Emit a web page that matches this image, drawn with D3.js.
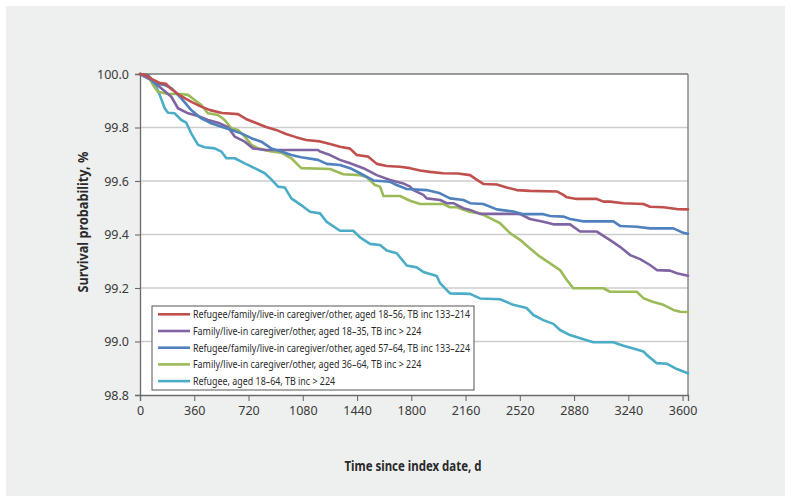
<!DOCTYPE html>
<html><head><meta charset="utf-8">
<script src="https://cdn.jsdelivr.net/npm/d3@7"></script>
<style>
html,body{margin:0;padding:0;background:#fff;}
svg{display:block;}
</style></head>
<body>
<svg id="chart" width="791" height="502"></svg>
<script>
// ---------- data ----------
const seriesNames = [
  "Refugee/family/live-in caregiver/other, aged 18\u201356, TB inc 133\u2013214",
  "Family/live-in caregiver/other, aged 18\u201335, TB inc > 224",
  "Refugee/family/live-in caregiver/other, aged 57\u201364, TB inc 133\u2013224",
  "Family/live-in caregiver/other, aged 36\u201364, TB inc > 224",
  "Refugee, aged 18\u201364, TB inc > 224"
];
const seriesColors = ["#c0504d", "#8064a2", "#4f81bd", "#9bbb59", "#4bacc6"];

const red = [[0,100],[40,99.996],[80,99.981],[133,99.966],[173,99.963],[199,99.948],[252,99.925],[305,99.907],[345,99.895],[398,99.880],[465,99.865],[544,99.854],[650,99.850],[703,99.832],[770,99.817],[836,99.802],[903,99.791],[969,99.776],[1035,99.764],[1102,99.753],[1195,99.748],[1261,99.738],[1327,99.728],[1394,99.721],[1438,99.697],[1515,99.691],[1571,99.664],[1637,99.656],[1725,99.653],[1792,99.648],[1858,99.639],[1924,99.634],[2011,99.629],[2110,99.628],[2190,99.622],[2236,99.604],[2278,99.589],[2367,99.587],[2433,99.576],[2500,99.566],[2588,99.563],[2765,99.561],[2809,99.548],[2832,99.539],[2898,99.533],[3031,99.533],[3075,99.523],[3119,99.523],[3207,99.517],[3340,99.514],[3384,99.504],[3473,99.502],[3562,99.495],[3636,99.494]];

const purple = [[0,100],[75,99.978],[141,99.947],[208,99.915],[252,99.872],[319,99.853],[385,99.843],[451,99.828],[518,99.818],[584,99.801],[628,99.766],[695,99.747],[750,99.722],[828,99.716],[1181,99.716],[1195,99.710],[1261,99.697],[1327,99.679],[1394,99.666],[1482,99.648],[1571,99.622],[1659,99.604],[1747,99.591],[1792,99.579],[1814,99.566],[1880,99.548],[1902,99.535],[1991,99.529],[2035,99.517],[2079,99.517],[2146,99.498],[2190,99.492],[2256,99.477],[2500,99.477],[2522,99.476],[2588,99.458],[2676,99.448],[2743,99.438],[2853,99.438],[2920,99.411],[3031,99.411],[3119,99.379],[3185,99.354],[3252,99.323],[3318,99.308],[3384,99.286],[3429,99.267],[3517,99.265],[3562,99.255],[3636,99.246]];

const blue = [[0,100],[53,99.996],[98,99.965],[164,99.959],[208,99.947],[274,99.909],[340,99.865],[407,99.834],[473,99.816],[540,99.803],[606,99.791],[672,99.778],[739,99.760],[805,99.747],[871,99.722],[938,99.710],[1004,99.697],[1070,99.689],[1181,99.679],[1239,99.664],[1327,99.660],[1394,99.648],[1460,99.629],[1548,99.602],[1659,99.597],[1703,99.585],[1770,99.570],[1902,99.566],[1991,99.554],[2057,99.535],[2146,99.529],[2190,99.517],[2278,99.514],[2367,99.494],[2477,99.486],[2544,99.476],[2676,99.476],[2721,99.469],[2809,99.467],[2853,99.458],[2942,99.449],[3141,99.449],[3185,99.432],[3296,99.429],[3384,99.423],[3539,99.423],[3605,99.406],[3636,99.403]];

const green = [[0,100],[53,99.996],[86,99.959],[119,99.934],[186,99.925],[274,99.925],[319,99.922],[363,99.903],[407,99.884],[451,99.853],[518,99.847],[562,99.828],[606,99.797],[650,99.791],[695,99.766],[739,99.735],[783,99.722],[871,99.710],[938,99.706],[1004,99.685],[1070,99.648],[1261,99.645],[1349,99.625],[1460,99.622],[1504,99.614],[1559,99.585],[1593,99.579],[1615,99.544],[1725,99.544],[1792,99.526],[1858,99.514],[2013,99.514],[2057,99.502],[2102,99.502],[2190,99.484],[2256,99.479],[2323,99.461],[2389,99.442],[2455,99.405],[2522,99.380],[2588,99.348],[2654,99.317],[2721,99.292],[2787,99.267],[2832,99.230],[2875,99.199],[3075,99.199],[3119,99.186],[3296,99.186],[3340,99.162],[3406,99.148],[3473,99.137],[3539,99.118],[3584,99.111],[3636,99.110]];

const cyan = [[0,100],[53,99.984],[98,99.965],[131,99.922],[164,99.872],[186,99.855],[230,99.853],[274,99.828],[307,99.818],[340,99.778],[385,99.735],[429,99.726],[496,99.722],[540,99.710],[573,99.685],[628,99.685],[695,99.666],[761,99.648],[828,99.629],[871,99.606],[916,99.579],[960,99.576],[1004,99.535],[1084,99.504],[1128,99.485],[1195,99.479],[1239,99.447],[1327,99.414],[1415,99.414],[1460,99.389],[1526,99.365],[1593,99.361],[1637,99.340],[1703,99.330],[1770,99.284],[1836,99.277],[1880,99.260],[1924,99.252],[1969,99.245],[1991,99.218],[2057,99.180],[2190,99.178],[2256,99.161],[2389,99.158],[2477,99.137],[2566,99.125],[2610,99.099],[2676,99.080],[2743,99.066],[2787,99.043],[2853,99.024],[2942,99.008],[3008,98.997],[3141,98.997],[3207,98.984],[3274,98.974],[3340,98.963],[3362,98.950],[3429,98.919],[3495,98.917],[3562,98.897],[3636,98.881]];

const xTicks = [0,360,720,1080,1440,1800,2160,2520,2880,3240,3600];
const yTicks = [98.8,99.0,99.2,99.4,99.6,99.8,100.0];
const xDomain = [0, 3636];
const yDomain = [98.8, 100.0];
const xTitle = "Time since index date, d";
const yTitle = "Survival probability, %";

// ---------- drawing ----------
const svg = d3.select("#chart");
const W = 791, H = 502;
const plot = {left:140, top:74, right:688, bottom:395};
const fontMain = "'Noto Sans','Open Sans',sans-serif";

svg.append("rect").attr("x",6).attr("y",6).attr("width",W-12).attr("height",H-12).attr("fill","#eeefef");

const x = d3.scaleLinear().domain(xDomain).range([plot.left, plot.right]);
const y = d3.scaleLinear().domain(yDomain).range([plot.bottom, plot.top]);

svg.append("rect").attr("x",plot.left).attr("y",plot.top)
  .attr("width",plot.right-plot.left).attr("height",plot.bottom-plot.top).attr("fill","#fff");

// gridlines
svg.append("g").selectAll("line").data(yTicks.filter(v=>v>98.85 && v<99.95)).join("line")
  .attr("x1",plot.left).attr("x2",plot.right)
  .attr("y1",d=>y(d)).attr("y2",d=>y(d))
  .attr("stroke","#cdcdcd").attr("stroke-width",1.4);

// frame top/right
svg.append("line").attr("x1",plot.left).attr("x2",plot.right).attr("y1",plot.top).attr("y2",plot.top)
  .attr("stroke","#7a7a7a").attr("stroke-width",1.3);
svg.append("line").attr("x1",plot.right).attr("x2",plot.right).attr("y1",plot.top).attr("y2",plot.bottom)
  .attr("stroke","#7a7a7a").attr("stroke-width",1.3);

// axes
const xAxis = d3.axisBottom(x).tickValues(xTicks).tickSize(6).tickPadding(5).tickFormat(d3.format("d"));
const yAxis = d3.axisLeft(y).tickValues(yTicks).tickSize(5).tickPadding(6).tickFormat(d3.format(".1f"));
const gx = svg.append("g").attr("transform",`translate(0,${plot.bottom})`).call(xAxis);
const gy = svg.append("g").attr("transform",`translate(${plot.left},0)`).call(yAxis);
[gx,gy].forEach(g=>{
  g.select(".domain").attr("stroke","#6b6b6b").attr("stroke-width",1.3);
  g.selectAll(".tick line").attr("stroke","#6b6b6b").attr("stroke-width",1.1);
  g.selectAll(".tick text").attr("fill","#3a3a3a").style("font-family",fontMain).style("font-size","12.5px");
});

// series
const allSeries = [red, purple, blue, green, cyan];
const line = d3.line().x(d=>x(d[0])).y(d=>y(d[1])).curve(d3.curveLinear);
const drawOrder = [4,3,1,2,0];
svg.append("g").selectAll("path").data(drawOrder).join("path")
  .attr("d",i=>line(allSeries[i]))
  .attr("fill","none").attr("stroke",i=>seriesColors[i])
  .attr("stroke-width",2.6).attr("stroke-linejoin","round").attr("stroke-linecap","round");

// helper to condense text to target width
function condense(sel, factor){
  sel.each(function(){
    const w = this.getComputedTextLength();
    d3.select(this).attr("textLength", w*factor).attr("lengthAdjust","spacingAndGlyphs");
  });
}

// titles
const xt = svg.append("text").attr("x",413).attr("y",471).attr("text-anchor","middle")
  .style("font-family",fontMain).style("font-size","14px").style("font-weight","bold").attr("fill","#2a2a2a")
  .text(xTitle);
const ntx = xt.node().getComputedTextLength();
xt.attr("textLength",137).attr("lengthAdjust","spacingAndGlyphs");
const yt = svg.append("text").attr("transform","translate(88,222) rotate(-90)").attr("text-anchor","middle")
  .style("font-family",fontMain).style("font-size","14px").style("font-weight","bold").attr("fill","#2a2a2a")
  .text(yTitle);
yt.attr("textLength",141).attr("lengthAdjust","spacingAndGlyphs");

// legend
const leg = svg.append("g");
leg.append("rect").attr("x",152).attr("y",306).attr("width",322).attr("height",84)
  .attr("fill","#fff").attr("stroke","#555").attr("stroke-width",1);
const legItems = leg.selectAll("g.item").data(seriesNames).join("g").attr("class","item")
  .attr("transform",(d,i)=>`translate(0,${314.3 + i*16.7})`);
legItems.append("line").attr("x1",158).attr("x2",190).attr("y1",0).attr("y2",0)
  .attr("stroke",(d,i)=>seriesColors[i]).attr("stroke-width",2.6);
const legText = legItems.append("text").attr("x",193).attr("y",4)
  .style("font-family",fontMain).style("font-size","11px").attr("fill","#2a2a2a")
  .text(d=>d);
let maxW = 0;
legText.each(function(){ maxW = Math.max(maxW, this.getComputedTextLength()); });
condense(legText, 277/maxW);
</script>
</body></html>
